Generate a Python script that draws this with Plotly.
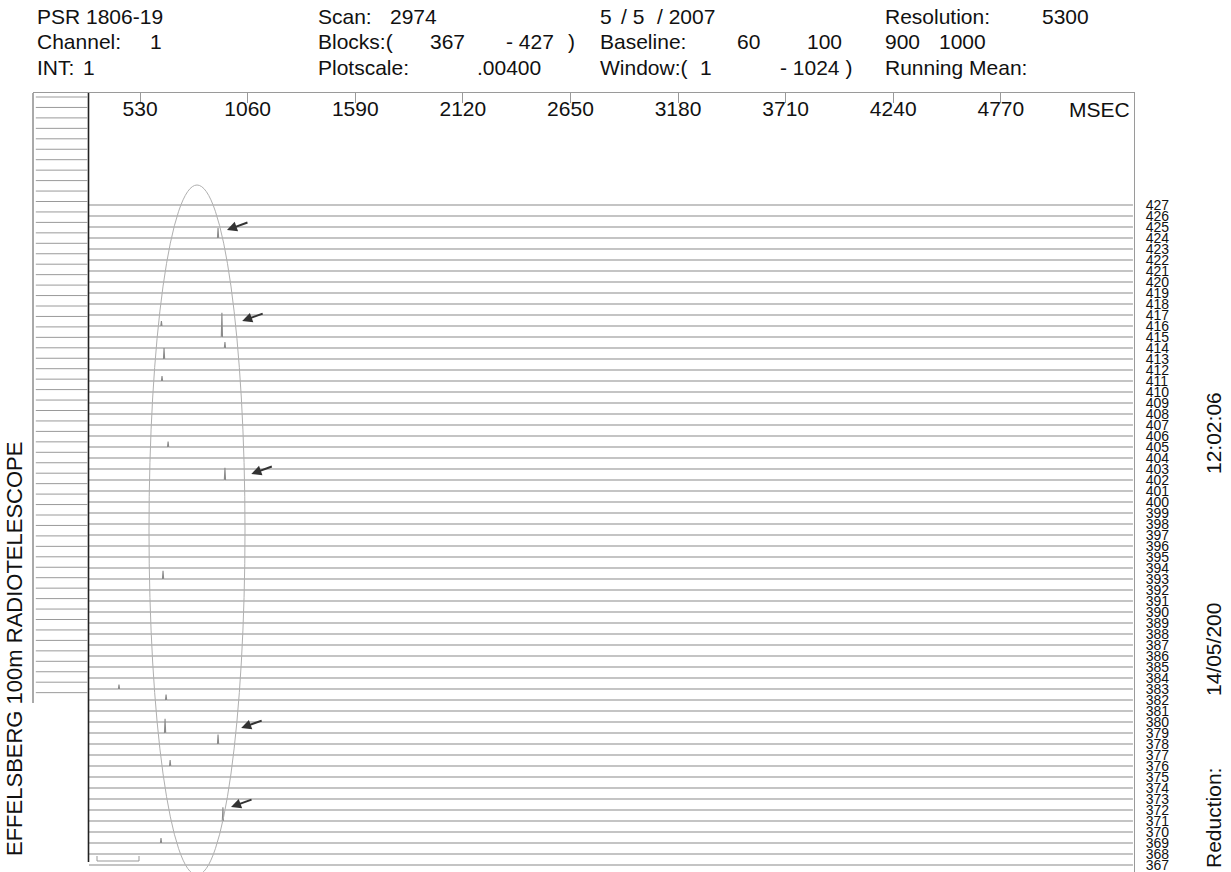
import plotly.graph_objects as go

W, H = 1231, 872
FONT = "Liberation Sans, Arial, Helvetica, sans-serif"

# ---------------- data ----------------
# pulse blocks (rows) shown in the stack
blocks = list(range(367, 428))

# single pulses found in the stack: block, time (ms), height (in row units)
pulse_block = [424, 416, 415, 414, 413, 411, 405, 402, 393, 383, 382, 379, 378, 376, 371, 369]
pulse_ms    = [914, 635, 933, 948, 648, 638, 668, 948, 643, 426, 658, 653, 914, 678, 938, 633]
pulse_amp   = [0.9, 0.45, 2.2, 0.55, 1.0, 0.45, 0.5, 1.1, 0.75, 0.4, 0.5, 1.3, 0.85, 0.55, 1.25, 0.45]

# time axis ticks
tick_ms = [530, 1060, 1590, 2120, 2650, 3180, 3710, 4240, 4770]
tick_text = [str(v) for v in tick_ms]

# time window covered by each block trace
trace_start_ms, trace_end_ms = 278, 5421

# arrows marking the pulses: head (ms, block)
arrow_ms    = [958, 1033, 1078, 1028, 978]
arrow_block = [424.73, 416.45, 402.55, 379.45, 372.27]

# overview strip on the left
overview_rows = list(range(1, 59))

# header texts
hdr_col1 = ["PSR 1806-19", "Channel:", "INT:"]
hdr_col1_val = ["", "1", "1"]
hdr_col2 = ["Scan:", "Blocks:(", "Plotscale:"]
hdr_col2_val = [["2974"], ["367", "- 427", ")"], [".00400"]]
hdr_col3 = [["5", "/ 5", "/ 2007"], ["Baseline:", "60", "100"], ["Window:(", "1", "- 1024 )"]]
hdr_col4 = [["Resolution:", "5300"], ["900", "1000"], ["Running Mean:"]]

# ---------------- geometry helpers ----------------
PX0, PX_PER_MS = 32.5, 0.203      # x pixel = PX0 + PX_PER_MS * ms
ROW_TOP_PX, ROW_STEP = 205, 11    # pixel y of top block, spacing between blocks
TOP_PX = 93


def px(x):
    return x / W


def py(y):
    return 1 - y / H


# ---------------- traces ----------------
xs, ys = [], []
for b in blocks:
    pts = sorted((m, a) for bb, m, a in zip(pulse_block, pulse_ms, pulse_amp) if bb == b)
    row_x = [trace_start_ms]
    row_y = [b]
    for m, a in pts:
        row_x += [m - 3, m, m + 3]
        row_y += [b, b + a, b]
    row_x.append(trace_end_ms)
    row_y.append(b)
    xs += row_x + [None]
    ys += row_y + [None]

fig = go.Figure()
fig.add_trace(go.Scatter(x=xs, y=ys, mode="lines",
                         line=dict(color="#8a8a8a", width=1.1),
                         hoverinfo="skip", xaxis="x", yaxis="y"))

ox, oy = [], []
for r in overview_rows:
    ox += [0.05, 0.97, None]
    oy += [r, r, None]
fig.add_trace(go.Scatter(x=ox, y=oy, mode="lines",
                         line=dict(color="#9a9a9a", width=1),
                         hoverinfo="skip", xaxis="x2", yaxis="y2"))

# ---------------- annotations ----------------
ann = []
HS = 21  # header font size


def text(t, x, y, size=HS, anchor="left", angle=0, yanchor="middle"):
    ann.append(dict(text=t, x=px(x), y=py(y), xref="paper", yref="paper",
                    xanchor=anchor, yanchor=yanchor, showarrow=False,
                    textangle=angle, font=dict(family=FONT, size=size, color="#111")))


row_y = [17, 42, 67]
for i in range(3):
    text(hdr_col1[i], 35, row_y[i])
text(hdr_col1_val[1], 148, row_y[1])
text(hdr_col1_val[2], 81, row_y[2])

for i in range(3):
    text(hdr_col2[i], 316, row_y[i])
text(hdr_col2_val[0][0], 388, row_y[0])
for t, x in zip(hdr_col2_val[1], [428, 504, 566]):
    text(t, x, row_y[1])
text(hdr_col2_val[2][0], 475, row_y[2])

for t, x in zip(hdr_col3[0], [598, 619, 655]):
    text(t, x, row_y[0])
for t, x in zip(hdr_col3[1], [598, 735, 805]):
    text(t, x, row_y[1])
for t, x in zip(hdr_col3[2], [598, 698, 778]):
    text(t, x, row_y[2])

for t, x in zip(hdr_col4[0], [883, 1040]):
    text(t, x, row_y[0])
for t, x in zip(hdr_col4[1], [883, 937]):
    text(t, x, row_y[1])
text(hdr_col4[2][0], 883, row_y[2])

text("MSEC", 1132, 110, anchor="right")

text("EFFELSBERG 100m RADIOTELESCOPE", 14, 649, size=22, anchor="center", angle=-90)
text("Reduction:", 1213, 818, size=21, anchor="center", angle=-90)
text("14/05/200", 1213, 650, size=21, anchor="center", angle=-90)
text("12:02:06", 1213, 433, size=21, anchor="center", angle=-90)

for m, b in zip(arrow_ms, arrow_block):
    ann.append(dict(x=m, y=b, xref="x", yref="y", ax=22, ay=-8,
                    showarrow=True, arrowhead=2, arrowsize=1, arrowwidth=2,
                    arrowcolor="#333", text=""))

# ---------------- shapes ----------------
shapes = [
    # ellipse around the pulse region
    dict(type="circle", xref="x", yref="y",
         x0=(149 - PX0) / PX_PER_MS, x1=(245 - PX0) / PX_PER_MS,
         y0=blocks[-1] - (185 - ROW_TOP_PX) / ROW_STEP,
         y1=blocks[-1] - (875 - ROW_TOP_PX) / ROW_STEP,
         line=dict(color="#b0b0b0", width=1)),
    # overview strip frame
    dict(type="line", xref="paper", yref="paper", x0=px(33), x1=px(33),
         y0=py(TOP_PX), y1=py(703), line=dict(color="#555", width=1)),
    # left frame of the block stack
    dict(type="line", xref="paper", yref="paper", x0=px(88.5), x1=px(88.5),
         y0=py(TOP_PX), y1=py(862), line=dict(color="#222", width=1.6)),
    # scale bar
    dict(type="path", xref="paper", yref="paper",
         path=f"M {px(97)} {py(856)} L {px(97)} {py(861)} L {px(139)} {py(861)} L {px(139)} {py(856)}",
         line=dict(color="#999", width=1)),
]

# ---------------- layout ----------------
fig.update_layout(
    width=W, height=H, margin=dict(l=0, r=0, t=0, b=0),
    paper_bgcolor="white", plot_bgcolor="white", showlegend=False,
    xaxis=dict(domain=[px(33), px(1134)],
               range=[(33 - PX0) / PX_PER_MS, (1134 - PX0) / PX_PER_MS],
               side="top", showline=True, linecolor="#9a9a9a", linewidth=1,
               tickvals=tick_ms, ticktext=tick_text, ticks="inside", ticklen=10,
               tickcolor="#9a9a9a", ticklabelposition="inside",
               tickfont=dict(family=FONT, size=21, color="#111"),
               showgrid=False, zeroline=False, anchor="y"),
    yaxis=dict(domain=[0, py(TOP_PX)],
               range=[blocks[-1] - (H - ROW_TOP_PX) / ROW_STEP,
                      blocks[-1] + (ROW_TOP_PX - TOP_PX) / ROW_STEP],
               side="right", showline=True, linecolor="#9a9a9a", linewidth=1,
               tickvals=blocks, ticktext=[str(b) for b in blocks],
               ticks="outside", ticklen=8, tickcolor="rgba(0,0,0,0)",
               ticklabeloverflow="allow",
               tickfont=dict(family=FONT, size=14, color="#111"),
               showgrid=False, zeroline=False, anchor="x"),
    xaxis2=dict(domain=[px(33), px(89)], range=[0, 1], visible=False, anchor="y2"),
    yaxis2=dict(domain=[0, py(TOP_PX)], range=[1 + (H - 97) / 10.45, 1 - 4 / 10.45],
                visible=False, anchor="x2"),
    annotations=ann, shapes=shapes,
)

fig.write_html("out.html")
